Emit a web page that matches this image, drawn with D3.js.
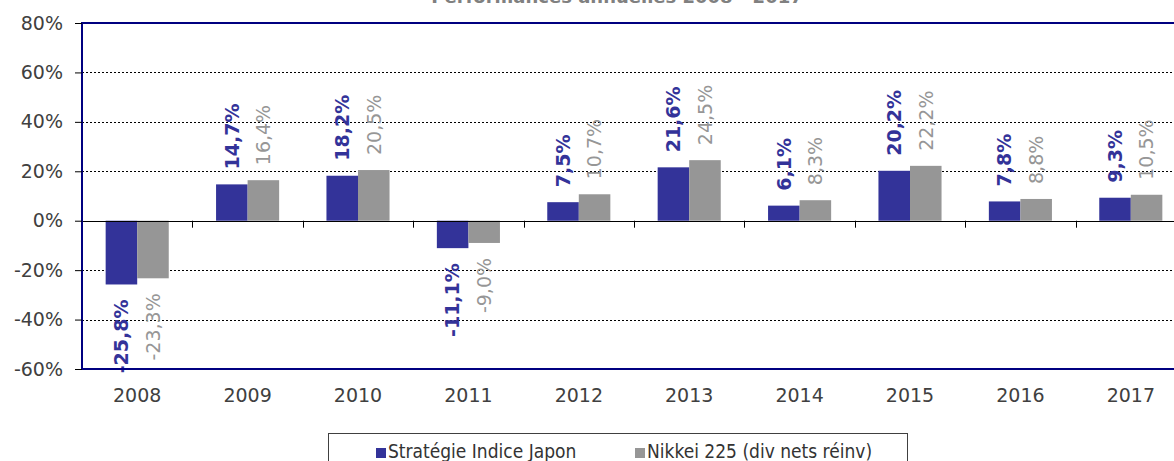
<!DOCTYPE html>
<html>
<head>
<meta charset="utf-8">
<script src="https://cdn.jsdelivr.net/npm/d3@7"></script>
<style>
  body { margin: 0; background: #fff; }
  svg { display: block; }
</style>
</head>
<body>
<script>
// data
var years = ["2008", "2009", "2010", "2011", "2012", "2013", "2014", "2015", "2016", "2017"];
var strategie = [-25.8, 14.7, 18.2, -11.1, 7.5, 21.6, 6.1, 20.2, 7.8, 9.3];
var nikkei = [-23.3, 16.4, 20.5, -9.0, 10.7, 24.5, 8.3, 22.2, 8.8, 10.5];
var seriesNames = ["Stratégie Indice Japon", "Nikkei 225 (div nets réinv)"];
var yTicks = [-60, -40, -20, 0, 20, 40, 60, 80];
var titleText = "Performances annuelles 2008 - 2017";

var width = 1174, height = 461;
var colors = ["#333399", "#969696"];

var svg = d3.select("body").append("svg")
    .attr("width", width)
    .attr("height", height);

var x = d3.scaleBand()
    .domain(years)
    .range([82, 1186]);

var xInner = d3.scaleBand()
    .domain([0, 1])
    .range([0, x.bandwidth()])
    .paddingOuter(0.75);

var y = d3.scaleLinear()
    .domain([-60, 80])
    .range([369, 23]);

function pct(v) {
    return v.toFixed(1).replace(".", ",") + "%";
}

// title (cut off at the top, as in the original)
svg.append("text")
    .attr("x", 617)
    .attr("y", 3)
    .attr("text-anchor", "middle")
    .attr("font-family", "DejaVu Sans")
    .attr("font-weight", "bold")
    .attr("font-size", 18)
    .attr("fill", "#808080")
    .text(titleText);

// gridlines
svg.append("g")
    .selectAll("line")
    .data(yTicks.filter(d => d != 0 && d != -60 && d != 80))
    .enter()
    .append("line")
    .attr("x1", 82)
    .attr("x2", width)
    .attr("y1", d => Math.round(y(d)) + 0.5)
    .attr("y2", d => Math.round(y(d)) + 0.5)
    .attr("stroke", "#000")
    .attr("stroke-dasharray", "2,2");

// bars
var rows = years.map((yr, i) => ({ year: yr, vals: [strategie[i], nikkei[i]] }));

var groups = svg.selectAll(".year")
    .data(rows)
    .enter()
    .append("g")
    .attr("transform", d => "translate(" + x(d.year) + ",0)");

groups.selectAll("rect")
    .data(d => d.vals.map((v, k) => ({ v: v, k: k })))
    .enter()
    .append("rect")
    .attr("x", d => xInner(d.k))
    .attr("width", xInner.bandwidth())
    .attr("y", d => y(Math.max(0, d.v)))
    .attr("height", d => Math.abs(y(d.v) - y(0)))
    .attr("fill", d => colors[d.k]);

// rotated value labels
groups.selectAll("text")
    .data(d => d.vals.map((v, k) => ({ v: v, k: k })))
    .enter()
    .append("text")
    .attr("transform", d => {
        var cx = xInner(d.k) + xInner.bandwidth() / 2;
        var cy = d.v >= 0 ? y(d.v) - 15 : y(d.v) + 15;
        return "translate(" + cx + "," + cy + ") rotate(-90)";
    })
    .attr("text-anchor", d => d.v >= 0 ? "start" : "end")
    .attr("dy", "0.36em")
    .attr("font-family", "DejaVu Sans")
    .attr("font-size", 19)
    .attr("font-weight", d => d.k == 0 ? "bold" : "normal")
    .attr("fill", d => colors[d.k])
    .text(d => pct(d.v));

// zero line with category ticks
svg.append("line")
    .attr("x1", 82).attr("x2", width)
    .attr("y1", Math.round(y(0)) + 0.5).attr("y2", Math.round(y(0)) + 0.5)
    .attr("stroke", "#000");

svg.append("g")
    .selectAll("line")
    .data(years.slice(1))
    .enter()
    .append("line")
    .attr("x1", d => Math.round(x(d)) + 0.5)
    .attr("x2", d => Math.round(x(d)) + 0.5)
    .attr("y1", y(0))
    .attr("y2", y(0) + 7)
    .attr("stroke", "#000");

// frame (top, left, bottom)
svg.append("path")
    .attr("d", "M" + width + "," + y(80) + "H82V" + y(-60) + "H" + width)
    .attr("fill", "none")
    .attr("stroke", "#000080")
    .attr("stroke-width", 2);

// y axis ticks and labels
var yAxis = d3.axisLeft(y)
    .tickValues(yTicks)
    .tickSize(7)
    .tickPadding(12)
    .tickFormat(d => d + "%");

var gy = svg.append("g")
    .attr("transform", "translate(82,0)")
    .call(yAxis);
gy.select(".domain").remove();
gy.selectAll("text")
    .attr("font-family", "DejaVu Sans")
    .attr("font-size", 19)
    .attr("fill", "#404040");

// x labels
var xAxis = d3.axisBottom(x).tickSize(0).tickPadding(0);
var gx = svg.append("g")
    .attr("transform", "translate(0,388)")
    .call(xAxis);
gx.select(".domain").remove();
gx.selectAll("text")
    .attr("font-family", "DejaVu Sans")
    .attr("font-size", 19)
    .attr("fill", "#404040");

// legend
var legend = svg.append("g");
legend.append("rect")
    .attr("x", 328.5).attr("y", 433.5)
    .attr("width", 579).attr("height", 40)
    .attr("fill", "#fff")
    .attr("stroke", "#404040");

var legX = [376, 635];
seriesNames.forEach((name, i) => {
    legend.append("rect")
        .attr("x", legX[i]).attr("y", 448)
        .attr("width", 10).attr("height", 10)
        .attr("fill", colors[i]);
    legend.append("text")
        .attr("x", legX[i] + 12)
        .attr("y", 458)
        .attr("font-family", "DejaVu Sans Condensed, DejaVu Sans")
        .attr("font-size", 19)
        .attr("fill", "#333")
        .text(name);
});
</script>
</body>
</html>
